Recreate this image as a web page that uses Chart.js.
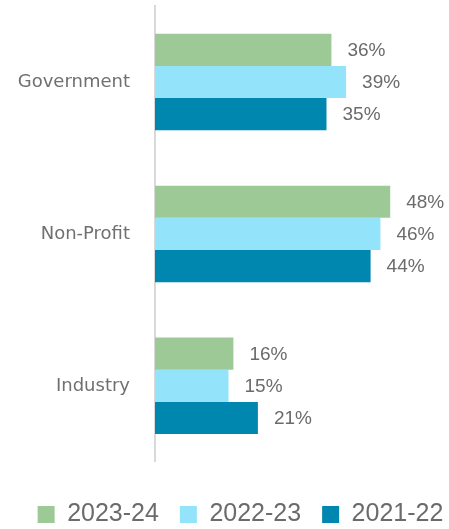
<!DOCTYPE html>
<html>
<head>
<meta charset="utf-8">
<script src="https://cdn.jsdelivr.net/npm/chart.js@4"></script>
<style>
  html, body { margin: 0; padding: 0; background: #fff; }
  #wrap { width: 449px; height: 529px; }
</style>
</head>
<body>
<div id="wrap"><canvas id="chart"></canvas></div>
<script>
const categories = ['Government', 'Non-Profit', 'Industry'];
const seriesNames = ['2023-24', '2022-23', '2021-22'];
const values2324 = [36, 48, 16];
const values2223 = [39, 46, 15];
const values2122 = [35, 44, 21];
const colors = ['#9DC997', '#93E4FB', '#0087B0'];

// writes "xx%" just past the end of each bar
const barLabels = {
  id: 'barLabels',
  afterDatasetsDraw(chart) {
    const ctx = chart.ctx;
    ctx.save();
    ctx.font = '19px "Liberation Sans", sans-serif';
    ctx.fillStyle = '#6b6b6b';
    ctx.textBaseline = 'middle';
    chart.data.datasets.forEach((ds, i) => {
      chart.getDatasetMeta(i).data.forEach((bar, j) => {
        ctx.fillText(ds.data[j] + '%', bar.x + 16, bar.y + 1);
      });
    });
    ctx.restore();
  }
};

// legend sits a bit right of centre in the original
const nudgeLegend = {
  id: 'nudgeLegend',
  afterLayout(chart) {
    if (chart.legend) {
      chart.legend.left += 16;
      chart.legend.right += 16;
    }
  }
};

let ctx = document.getElementById('chart').getContext('2d');
let chart = new Chart(ctx, {
  type: 'bar',
  data: {
    labels: categories,
    datasets: [
      { label: seriesNames[0], data: values2324, backgroundColor: colors[0] },
      { label: seriesNames[1], data: values2223, backgroundColor: colors[1] },
      { label: seriesNames[2], data: values2122, backgroundColor: colors[2] },
    ]
  },
  options: {
    indexAxis: 'y',
    responsive: true,
    maintainAspectRatio: false,
    animation: false,
    categoryPercentage: 0.635,
    barPercentage: 1,
    layout: { padding: { top: 6, right: 0, left: 0, bottom: -8 } },
    scales: {
      x: {
        display: false,
        min: 0,
        max: 60,
      },
      y: {
        grid: { display: false },
        border: { color: '#d9d9d9', width: 2 },
        ticks: {
          color: '#707070',
          padding: 17,
          font: { family: '"DejaVu Sans", sans-serif', size: 18 }
        },
        afterFit(scale) {
          // no extra room above/below the axis for the tick labels
          scale.paddingTop = 0;
          scale.paddingBottom = 0;
          scale.width = 155;
        }
      }
    },
    plugins: {
      tooltip: { enabled: false },
      legend: {
        position: 'bottom',
        title: { display: true, text: '', font: { size: 1 }, padding: { top: 0, bottom: 18 } },
        labels: {
          boxWidth: 17,
          boxHeight: 17,
          padding: 21,
          color: '#6b6b6b',
          font: { family: '"Liberation Sans", sans-serif', size: 25 }
        }
      }
    }
  },
  plugins: [barLabels, nudgeLegend]
});
</script>
</body>
</html>
